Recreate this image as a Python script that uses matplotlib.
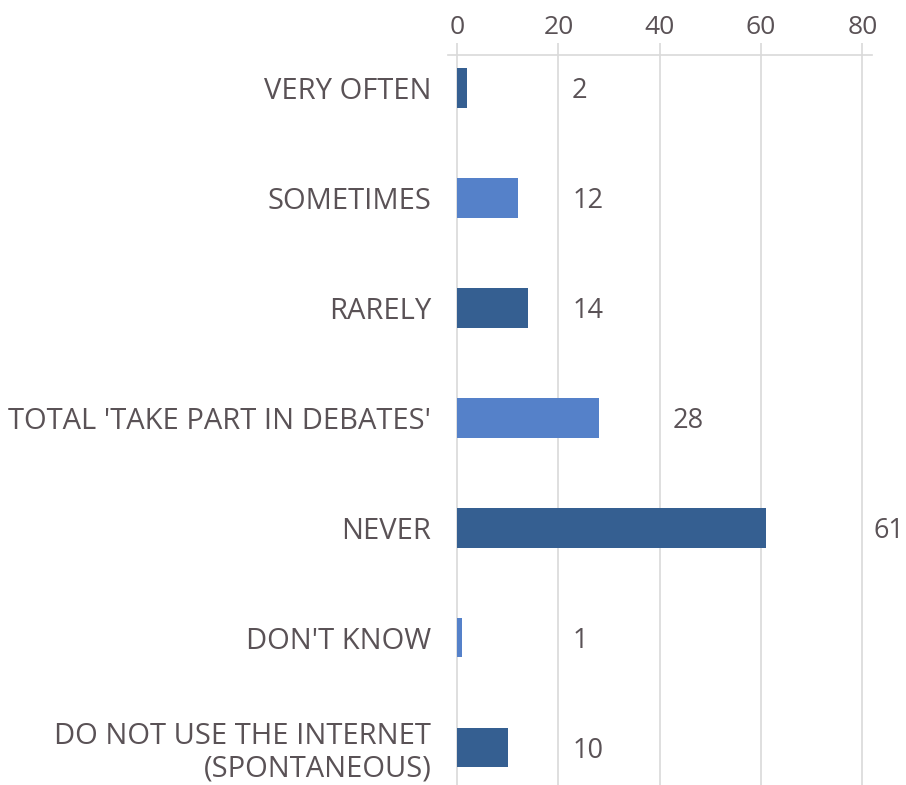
import matplotlib.pyplot as plt

categories = ["VERY OFTEN", "SOMETIMES", "RARELY", "TOTAL 'TAKE PART IN DEBATES'",
              "NEVER", "DON'T KNOW", "DO NOT USE THE INTERNET\n(SPONTANEOUS)"]
values = [2, 12, 14, 28, 61, 1, 10]
ticks = [0, 20, 40, 60, 80]

# where Excel put the value labels (x in data units, left edge of text)
label_pos = [22.7, 22.7, 22.7, 42.6, 82.1, 22.7, 22.7]

dark = "#355f91"
light = "#5581c9"
colors = [dark, light, dark, light, dark, light, dark]
text_col = "#5a5256"
grid_col = "#d9d9d9"

plt.rcParams['font.family'] = ['Open Sans', 'DejaVu Sans']

fig = plt.figure(figsize=(9.06, 7.85), dpi=100)
ax = fig.add_axes([448 / 906, 0, (872 - 448) / 906, (785 - 55) / 785])

y = list(range(len(categories)))
ax.barh(y, values, height=0.36, color=colors, zorder=3)

ax.set_xlim(-1.8, 81.9)
ax.set_ylim(6.34, -0.3)

ax.xaxis.tick_top()
ax.set_xticks(ticks)
ax.set_xticklabels([str(t) for t in ticks])
ax.tick_params(axis='x', colors=grid_col, length=9, width=1.2, labelsize=19,
               labelcolor=text_col, pad=2)
ax.grid(axis='x', color=grid_col, linewidth=1.2, zorder=0)

ax.set_yticks(y)
ax.set_yticklabels(categories, fontsize=21, color=text_col, linespacing=1.15)
ax.tick_params(axis='y', length=0, pad=12)

for s in ['left', 'right', 'bottom']:
    ax.spines[s].set_visible(False)
ax.spines['top'].set_color(grid_col)
ax.spines['top'].set_linewidth(1.2)

for yi, v, lx in zip(y, values, label_pos):
    ax.text(lx, yi, str(v), ha='left', va='center_baseline', fontsize=19.5,
            color=text_col, clip_on=False)

fig.savefig("out.png", dpi=100)
